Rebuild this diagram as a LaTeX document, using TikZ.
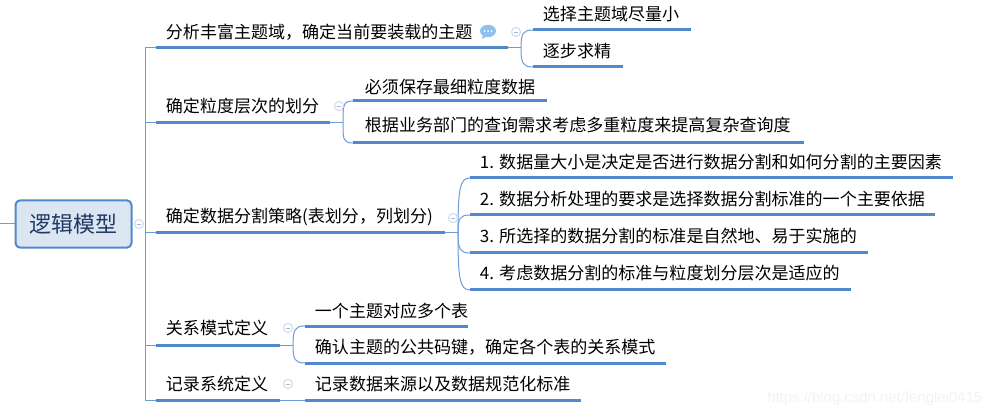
\documentclass[tikz,border=0pt]{standalone}
\usepackage{fontspec}
\setmainfont{Noto Sans CJK SC}
\newfontfamily\wmfont{Liberation Sans}
\usetikzlibrary{calc}
\definecolor{brline}{HTML}{5288CC}
\definecolor{thinline}{HTML}{6C9BD6}
\definecolor{rootfill}{HTML}{DCE6F2}
\definecolor{rootink}{HTML}{1F3864}
\definecolor{foldline}{HTML}{CBD8F0}
\definecolor{foldbar}{HTML}{A9B4C8}
\definecolor{bubble}{HTML}{8FC1EE}
\tikzset{
  x=0.75pt,y=-0.75pt,
  topictext/.style={anchor=west,inner sep=0pt,font=\fontsize{12.77pt}{15pt}\selectfont,text=black,text height=10.5pt,text depth=2.5pt},
  underline/.style={line width=2.25pt,draw=brline},
  branch/.style={line width=0.75pt,draw=thinline},
  rootbox/.style={draw=brline,line width=1.5pt,fill=rootfill,rounded corners=3.5pt,minimum width=87pt,minimum height=35.5pt,inner sep=0pt,font=\fontsize{16.5pt}{20pt}\selectfont,text=rootink},
  fold/.style={circle,draw=foldline,line width=0.75pt,fill=white,minimum size=6.8pt,inner sep=0pt,path picture={\draw[foldbar,line width=0.6pt] ([xshift=-1.8pt]path picture bounding box.center) -- ([xshift=1.8pt]path picture bounding box.center);}},
  watermark/.style={anchor=west,inner sep=0pt,font=\wmfont\fontsize{11.2pt}{13pt}\selectfont,text=black!5}
}
% name, x start, x end, line y, text y, text
\newcommand{\topic}[6]{%
  \coordinate (#1-l) at (#2,#4);
  \coordinate (#1-r) at (#3,#4);
  \draw[underline] (#1-l) -- (#1-r);
  \node[topictext] (#1) at (#2+9.7,#5+1.5) {#6};
}
% parent, child
\newcommand{\curvelink}[2]{%
  \draw[branch] (#1-r) -- ++(13,0) coordinate (#1-j);
  \draw[branch] (#1-j) .. controls ($(#1-j)!0.82!(#1-j |- #2-l)$) and ([xshift=-7.5pt]#2-l) .. (#2-l);
}
\begin{document}
\begin{tikzpicture}
\useasboundingbox (0,0) rectangle (1004,417);
\node[rootbox] (root) at (73.5,224) {逻辑模型};
\coordinate (stub) at (0,224);
\draw[branch] (stub) -- (root.west);

\topic{a}{156}{508}{48}{32}{分析丰富主题域，确定当前要装载的主题}
\topic{a1}{533}{691}{30}{14}{选择主题域尽量小}
\topic{a2}{533}{623}{67}{51}{逐步求精}
\topic{b}{156}{330}{123}{106}{确定粒度层次的划分}
\topic{b1}{353}{547}{101}{87}{\hspace*{1.5pt}必须保存最细粒度数据}
\topic{b2}{353}{804}{143}{125}{\hspace*{1.5pt}根据业务部门的查询需求考虑多重粒度来提高复杂查询度}
\topic{c}{156}{445}{233}{216}{确定数据分割策略(表划分，列划分)}
\topic{c1}{470}{953}{178}{162}{1. 数据量大小是决定是否进行数据分割和如何分割的主要因素}
\topic{c2}{470}{935}{215}{199}{2. 数据分析处理的要求是选择数据分割标准的一个主要依据}
\topic{c3}{470}{868}{253}{236}{3. 所选择的数据分割的标准是自然地、易于实施的}
\topic{c4}{470}{851}{290}{273}{4. 考虑数据分割的标准与粒度划分层次是适应的}
\topic{d}{156}{280}{345}{328}{关系模式定义}
\topic{d1}{305}{468}{326}{311}{一个主题对应多个表}
\topic{d2}{305}{666}{363}{347}{确认主题的公共码键，确定各个表的关系模式}
\topic{e}{156}{280}{400}{384}{记录系统定义}
\topic{e1}{305}{581}{400}{384}{记录数据来源以及数据规范化标准}

% trunk
\coordinate (trunktop) at (145,48);
\coordinate (trunkbot) at (145,400);
\draw[branch] (trunktop) -- (trunkbot);
\foreach \t in {a,b,c,d,e}{\draw[branch] (trunktop |- \t-l) -- (\t-l);}

\curvelink{a}{a1}\curvelink{a}{a2}
\curvelink{b}{b1}\curvelink{b}{b2}
\curvelink{c}{c1}\curvelink{c}{c2}\curvelink{c}{c3}\curvelink{c}{c4}
\curvelink{d}{d1}\curvelink{d}{d2}
\draw[branch] (e-r) -- (e1-l);

% fold markers
\node[fold] (f0) at (139,224) {};
\node[fold] (fa) at (516,32) {};
\node[fold] (fb) at (339,106) {};
\node[fold] (fc) at (453,218) {};
\node[fold] (fd) at (288,328) {};
\node[fold] (fe) at (288,384) {};

% comment bubble
\fill[bubble] (488,31) ellipse [x radius=8,y radius=6.2];
\fill[bubble] (483,34) -- (482,39) -- (488,36) -- cycle;
\foreach \dx in {-3.5,0,3.5}{\fill[white] (488+\dx,31) circle (0.75pt);}

\node[watermark] (wm) at (767,399) {https://blog.csdn.net/fenglei0415};
\end{tikzpicture}
\end{document}
